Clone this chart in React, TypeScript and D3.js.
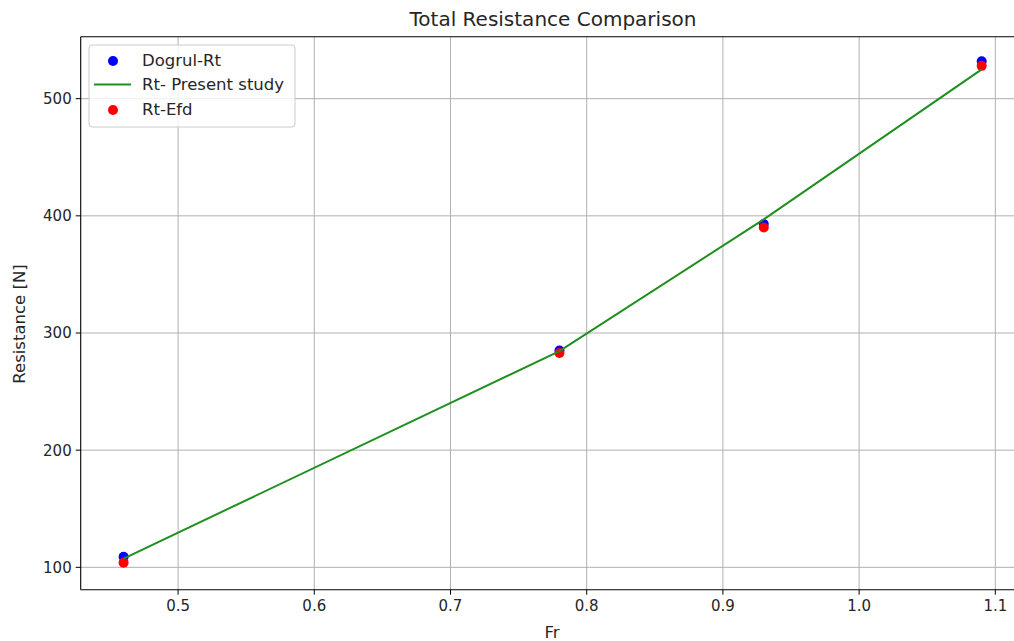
import React from "react";
import * as d3 from "d3";

// Froude numbers of the test cases
const froude = [0.46, 0.78, 0.93, 1.09];
// Total resistance [N]
const dogrulRt = [109, 285, 393, 532];
const presentStudyRt = [107.5, 284.5, 397, 525];
const efdRt = [104, 283, 390, 528];

const xTicks = [0.5, 0.6, 0.7, 0.8, 0.9, 1.0, 1.1];
const yTicks = [100, 200, 300, 400, 500];

const W = 1014;
const H = 641;
const left = 80.7;
const top = 36.7;
const bottom = 589.7;
const right = 1024.6;

const FONT = "DejaVu Sans, sans-serif";

export default function App() {
  const x = d3.scaleLinear().domain([0.4285, 1.1215]).range([left, right]);
  const y = d3.scaleLinear().domain([80.9, 552.9]).range([bottom, top]);

  const line = d3
    .line<number>()
    .x((_, i) => x(froude[i]))
    .y((d) => y(d));

  const green = "#1f8f1f";

  return (
    <svg
      width={W}
      height={H}
      style={{ position: "absolute", left: 0, top: 0, background: "#fff" }}
      fontFamily={FONT}
    >
      <defs>
        <clipPath id="plot">
          <rect x={left} y={top} width={right - left} height={bottom - top} />
        </clipPath>
      </defs>
      <rect x={0} y={0} width={W} height={H} fill="#fff" />

      {/* grid */}
      <g stroke="#b0b0b0" strokeWidth={1}>
        {xTicks.map((t) => (
          <line key={"gx" + t} x1={x(t)} x2={x(t)} y1={top} y2={bottom} />
        ))}
        {yTicks.map((t) => (
          <line key={"gy" + t} x1={left} x2={right} y1={y(t)} y2={y(t)} />
        ))}
      </g>

      {/* series */}
      <g clipPath="url(#plot)">
        {froude.map((f, i) => (
          <circle key={"b" + i} cx={x(f)} cy={y(dogrulRt[i])} r={5} fill="#0000ff" />
        ))}
        {froude.map((f, i) => (
          <circle key={"r" + i} cx={x(f)} cy={y(efdRt[i])} r={5} fill="#ff0000" />
        ))}
        <path d={line(presentStudyRt) || ""} fill="none" stroke={green} strokeWidth={2} />
      </g>

      {/* spines */}
      <g stroke="#000" strokeWidth={1.1} fill="none">
        <line x1={left} x2={left} y1={top} y2={bottom} />
        <line x1={left} x2={right} y1={top} y2={top} />
        <line x1={left} x2={right} y1={bottom} y2={bottom} />
      </g>

      {/* ticks */}
      <g fontSize={15} fill="#262626">
        {xTicks.map((t) => (
          <g key={"xt" + t}>
            <line x1={x(t)} x2={x(t)} y1={bottom} y2={bottom + 5} stroke="#000" strokeWidth={1} />
            <text x={x(t)} y={bottom + 21} textAnchor="middle">
              {t.toFixed(1)}
            </text>
          </g>
        ))}
        {yTicks.map((t) => (
          <g key={"yt" + t}>
            <line x1={left - 5} x2={left} y1={y(t)} y2={y(t)} stroke="#000" strokeWidth={1} />
            <text x={left - 9} y={y(t)} dy="0.36em" textAnchor="end">
              {t}
            </text>
          </g>
        ))}
      </g>

      {/* labels */}
      <text x={552} y={638} textAnchor="middle" fontSize={16.5} fill="#262626">
        Fr
      </text>
      <text
        transform="translate(25, 324) rotate(-90)"
        textAnchor="middle"
        fontSize={16.5}
        fill="#262626"
      >
        Resistance [N]
      </text>
      <text x={553} y={25.5} textAnchor="middle" fontSize={20} fill="#262626">
        Total Resistance Comparison
      </text>

      {/* legend */}
      <g>
        <rect
          x={89}
          y={45}
          width={206}
          height={82}
          rx={3}
          fill="#fff"
          fillOpacity={0.8}
          stroke="#cccccc"
          strokeWidth={1}
        />
        <circle cx={113} cy={61} r={5} fill="#0000ff" />
        <line x1={94} x2={131} y1={84.5} y2={84.5} stroke={green} strokeWidth={2} />
        <circle cx={113} cy={110} r={5} fill="#ff0000" />
        <g fontSize={16.5} fill="#262626">
          <text x={142} y={60} dy="0.36em">Dogrul-Rt</text>
          <text x={142} y={84} dy="0.36em">Rt- Present study</text>
          <text x={142} y={109} dy="0.36em">Rt-Efd</text>
        </g>
      </g>
    </svg>
  );
}
